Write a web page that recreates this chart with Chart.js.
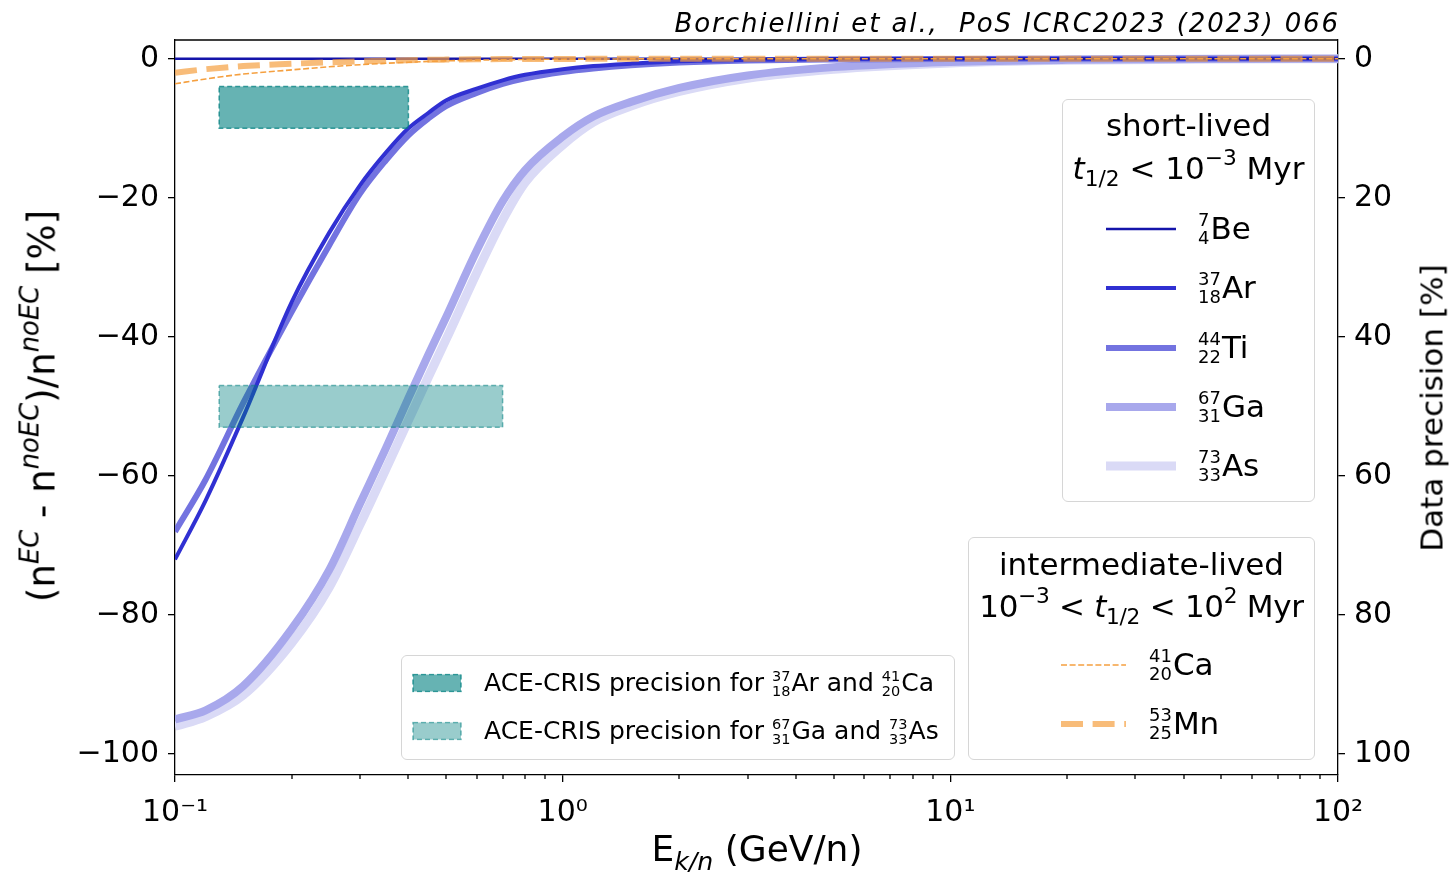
<!DOCTYPE html>
<html>
<head>
<meta charset="utf-8">
<script src="https://cdn.jsdelivr.net/npm/chart.js@4.4.1/dist/chart.umd.min.js"></script>
<style>
  html, body { margin: 0; padding: 0; background: #fff; }
  #wrap { position: relative; width: 1453px; height: 872px; font-family: "DejaVu Sans", sans-serif; color: #000; }
  #chart { position: absolute; left: 0; top: 0; }
  .txt { position: absolute; white-space: nowrap; line-height: 1; }
  .rot { transform: translate(-50%, -50%) rotate(-90deg); }
  .mid { transform: translate(-50%, -50%); }
  sup, sub { font-size: 0.7em; line-height: 0; }
  sup { vertical-align: 0.6em; }
  sub { vertical-align: -0.35em; }
  .leg { position: absolute; box-sizing: border-box; border: 1.5px solid #d6d6d6; border-radius: 6px; background: rgba(255,255,255,0.8); }
  .ttl { position: absolute; left: 0; right: 0; text-align: center; white-space: nowrap; line-height: 1; font-size: 31px; transform: translateY(-50%); }
  .smp { position: absolute; transform: translateY(-50%); }
  .smp svg { display: block; }
  .lbl { position: absolute; white-space: nowrap; line-height: 1; transform: translateY(-50%); font-size: 31px; }
  .nuc { display: inline-block; font-size: 0.58em; line-height: 1.0; text-align: right; vertical-align: -0.3em; margin-right: 1px; }
  .nuc span { display: block; }
  #cite { font-family: "DejaVu Sans ExtraLight", "DejaVu Sans", sans-serif; font-weight: 200; font-style: italic; font-size: 26px; letter-spacing: 1.9px; right: 113px; top: 10px; }
</style>
</head>
<body>
<div id="wrap">
  <canvas id="chart" width="1453" height="872"></canvas>
  <div class="txt" id="cite">Borchiellini et al.,&nbsp; PoS ICRC2023 (2023) 066</div>
  <div class="txt rot" style="left:42px;top:406px;font-size:37px">(n<sup><i>EC</i></sup> - n<sup><i>noEC</i></sup>)/n<sup><i>noEC</i></sup> [%]</div>
  <div class="txt rot" style="left:1432px;top:408px;font-size:31px">Data precision [%]</div>
  <div class="txt mid" style="left:757px;top:849px;font-size:36px">E<sub><i>k/n</i></sub> (GeV/n)</div>
  <div class="leg" id="leg-short" style="left:1062px;top:99px;width:253px;height:403px">
    <div class="ttl" style="top:25px">short-lived</div>
    <div class="ttl" style="top:68px"><i>t</i><sub>1/2</sub> &lt; 10<sup>−3</sup> Myr</div>
  </div>
  <div class="leg" id="leg-inter" style="left:968px;top:537px;width:347px;height:223px">
    <div class="ttl" style="top:26px">intermediate-lived</div>
    <div class="ttl" style="top:68px;letter-spacing:-0.3px">10<sup>−3</sup> &lt; <i>t</i><sub>1/2</sub> &lt; 10<sup>2</sup> Myr</div>
  </div>
  <div class="leg" id="leg-ace" style="left:401px;top:655px;width:554px;height:105px"></div>
</div>
<script>
// kinetic energy per nucleon (GeV/n)
const energy = [0.1, 0.12, 0.15, 0.2, 0.25, 0.3, 0.35, 0.4, 0.45, 0.5, 0.6, 0.7, 0.8, 1, 1.2, 1.5, 2, 3, 5, 10, 20, 50, 100];

// (n^EC - n^noEC)/n^noEC [%]
const be7  = [0, 0, 0, 0, 0, 0, 0, 0, 0, 0, 0, 0, 0, 0, 0, 0, 0, 0, 0, 0, 0, 0, 0];
const ar37 = [-72, -63.5, -51.5, -35, -25, -18.2, -13.5, -10, -7.8, -6, -4.3, -3.1, -2.3, -1.5, -1.05, -0.7, -0.35, -0.15, -0.05, 0, 0, 0, 0];
const ti44 = [-68, -60.5, -49.5, -36.4, -26.8, -19.4, -14.6, -11, -8.6, -6.8, -4.9, -3.6, -2.8, -1.9, -1.4, -0.95, -0.55, -0.25, -0.1, -0.02, 0, 0, 0];
const ga67 = [-95, -93.7, -90.2, -82, -73.5, -64, -56, -48.8, -42.6, -37.2, -27.6, -20.5, -16, -11.2, -8.3, -6.2, -4.2, -2.4, -1.2, -0.45, -0.15, -0.03, 0];
const as73 = [-96, -94.6, -91.5, -84, -76, -67, -59, -52, -45.8, -40.4, -30.8, -23.2, -17.8, -12.4, -9.1, -6.8, -4.7, -2.8, -1.5, -0.6, -0.2, -0.05, 0];
const ca41 = [-3.6, -2.9, -2.2, -1.6, -1.15, -0.85, -0.65, -0.5, -0.38, -0.3, -0.2, -0.15, -0.1, -0.06, -0.04, -0.02, 0, 0, 0, 0, 0, 0, 0];
const mn53 = [-2.0, -1.5, -1.05, -0.72, -0.5, -0.36, -0.27, -0.2, -0.15, -0.12, -0.08, -0.05, -0.03, -0.02, -0.01, 0, 0, 0, 0, 0, 0, 0, 0];

// ACE-CRIS precision bands (energy range, precision range in %)
const aceArCaE = [0.13, 0.4];
const aceArCaPrec = [4, 10];
const aceGaAsE = [0.13, 0.7];
const aceGaAsPrec = [47, 53];

// axes
const xTickValues = [0.1, 1, 10, 100];
const xTickLabels = ["10\u207B\u00B9", "10\u2070", "10\u00B9", "10\u00B2"];
const yTicks = [-100, -80, -60, -40, -20, 0];
const precTicks = [0, 20, 40, 60, 80, 100];

const xMinorTicks = [];
for (const d of [0.1, 1, 10]) {
  for (let k = 2; k < 10; k++) xMinorTicks.push(d * k);
}

function points(vals) {
  return energy.map((e, i) => ({ x: e, y: vals[i] }));
}
function band(es, ps) {
  return [
    { x: es[0], y: ps[0] }, { x: es[1], y: ps[0] },
    { x: es[1], y: ps[1] }, { x: es[0], y: ps[1] },
    { x: es[0], y: ps[0] },
  ];
}

function curve(label, vals, color, width, dash, order, nuc) {
  return {
    label: label,
    data: points(vals),
    borderColor: color,
    borderWidth: width,
    borderDash: dash,
    pointRadius: 0,
    cubicInterpolationMode: "monotone",
    fill: false,
    order: order,
    yAxisID: "y",
    nuc: nuc,
  };
}

let shortLived = [
  curve("Be7", be7, "#1414aa", 2.5, [], 4, ["7", "4", "Be"]),
  curve("Ar37", ar37, "#3030d2", 4, [], 5, ["37", "18", "Ar"]),
  curve("Ti44", ti44, "#7373e0", 6, [], 6, ["44", "22", "Ti"]),
  curve("Ga67", ga67, "#a8a8ec", 8, [], 7, ["67", "31", "Ga"]),
  curve("As73", as73, "#dadaf6", 9, [], 8, ["73", "33", "As"]),
];
let interLived = [
  curve("Ca41", ca41, "#f5a040", 1.6, [6, 2.6], 3, ["41", "20", "Ca"]),
  curve("Mn53", mn53, "rgba(245,160,64,0.7)", 6, [22, 9.6], 2, ["53", "25", "Mn"]),
];

function aceBand(label, es, ps, fillColor, edgeColor, order, text) {
  return {
    label: label,
    data: band(es, ps),
    backgroundColor: fillColor,
    borderColor: edgeColor,
    borderWidth: 1.5,
    borderDash: [5, 3],
    pointRadius: 0,
    tension: 0,
    fill: "shape",
    order: order,
    yAxisID: "y1",
    text: text,
  };
}

let aceBands = [
  aceBand("ACE Ar Ca", aceArCaE, aceArCaPrec, "rgba(0,128,128,0.6)", "rgba(0,128,128,0.75)", 0,
    "ACE-CRIS precision for <span class='nuc'><span>37</span><span>18</span></span>Ar and <span class='nuc'><span>41</span><span>20</span></span>Ca"),
  aceBand("ACE Ga As", aceGaAsE, aceGaAsPrec, "rgba(0,128,128,0.4)", "rgba(0,128,128,0.55)", 1,
    "ACE-CRIS precision for <span class='nuc'><span>67</span><span>31</span></span>Ga and <span class='nuc'><span>73</span><span>33</span></span>As"),
];

const tickFont = { family: "DejaVu Sans", size: 30 };

// frame on top + minor ticks on the x axis
const axesExtras = {
  id: "axesExtras",
  afterDraw(chart) {
    const { ctx, chartArea: a, scales } = chart;
    ctx.save();
    ctx.strokeStyle = "#000";
    ctx.lineWidth = 1.3;
    ctx.beginPath();
    ctx.moveTo(a.left, a.top);
    ctx.lineTo(a.right, a.top);
    for (const v of xMinorTicks) {
      const px = Math.round(scales.x.getPixelForValue(v));
      ctx.moveTo(px, a.bottom);
      ctx.lineTo(px, a.bottom + 4);
    }
    ctx.stroke();
    ctx.restore();
  },
};

new Chart("chart", {
  type: "line",
  data: { datasets: [...aceBands, ...interLived, ...shortLived] },
  options: {
    responsive: false,
    animation: false,
    events: [],
    layout: { padding: { top: 40, left: 0, right: 0, bottom: 0 } },
    plugins: { legend: { display: false }, tooltip: { enabled: false } },
    scales: {
      x: {
        type: "logarithmic",
        min: 0.1,
        max: 100,
        afterBuildTicks: (s) => { s.ticks = xTickValues.map((v) => ({ value: v })); },
        afterFit: (s) => { s.height = 97; },
        ticks: {
          font: tickFont,
          color: "#000",
          padding: 13,
          maxRotation: 0,
          autoSkip: false,
          callback: (v, i) => xTickLabels[i],
        },
        grid: { drawOnChartArea: false, color: "#000", tickLength: 7, lineWidth: 1.3 },
        border: { display: true, color: "#000", width: 1.3 },
      },
      y: {
        position: "left",
        min: -103,
        max: 2.7,
        afterBuildTicks: (s) => { s.ticks = yTicks.map((v) => ({ value: v })); },
        afterFit: (s) => { s.width = 175; },
        ticks: {
          font: tickFont,
          color: "#000",
          padding: 9,
          callback: (v) => (v < 0 ? "\u2212" + Math.abs(v) : String(v)),
        },
        grid: { drawOnChartArea: false, color: "#000", tickLength: 7, lineWidth: 1.3 },
        border: { display: true, color: "#000", width: 1.3 },
      },
      y1: {
        position: "right",
        reverse: true,
        min: -2.7,
        max: 103,
        afterBuildTicks: (s) => { s.ticks = precTicks.map((v) => ({ value: v })); },
        afterFit: (s) => { s.width = 115; },
        ticks: { font: tickFont, color: "#000", padding: 9, callback: (v) => String(v) },
        grid: { drawOnChartArea: false, color: "#000", tickLength: 7, lineWidth: 1.3 },
        border: { display: true, color: "#000", width: 1.3 },
      },
    },
  },
  plugins: [axesExtras],
});

// legends, built from the dataset styles
function nucHtml(n) {
  return `<span class="nuc"><span>${n[0]}</span><span>${n[1]}</span></span>${n[2]}`;
}
function lineSvg(ds, len) {
  let dash = ds.borderDash.length ? `stroke-dasharray="${ds.borderDash.join(" ")}"` : "";
  return `<svg width="${len}" height="24"><line x1="0" y1="12" x2="${len}" y2="12" stroke="${ds.borderColor}" stroke-width="${ds.borderWidth}" ${dash}/></svg>`;
}
function addRows(boxId, list, firstY, step, sampleX, sampleLen, textX) {
  let box = document.getElementById(boxId);
  list.forEach((ds, i) => {
    let cy = firstY + i * step;
    box.innerHTML += `<div class="smp" style="left:${sampleX}px;top:${cy}px">${lineSvg(ds, sampleLen)}</div>` +
      `<div class="lbl" style="left:${textX}px;top:${cy}px">${nucHtml(ds.nuc)}</div>`;
  });
}
addRows("leg-short", shortLived, 129, 59.3, 43, 70, 135);
addRows("leg-inter", interLived, 127, 59, 92, 65, 180);

let aceBox = document.getElementById("leg-ace");
aceBands.forEach((ds, i) => {
  let cy = 27 + i * 48;
  aceBox.innerHTML += `<div class="smp" style="left:10px;top:${cy}px"><svg width="50" height="19"><rect x="1" y="1" width="48" height="17" fill="${ds.backgroundColor}" stroke="${ds.borderColor}" stroke-width="1.5" stroke-dasharray="5 3"/></svg></div>` +
    `<div class="lbl" style="left:82px;top:${cy}px;font-size:25px">${ds.text}</div>`;
});
</script>
</body>
</html>
